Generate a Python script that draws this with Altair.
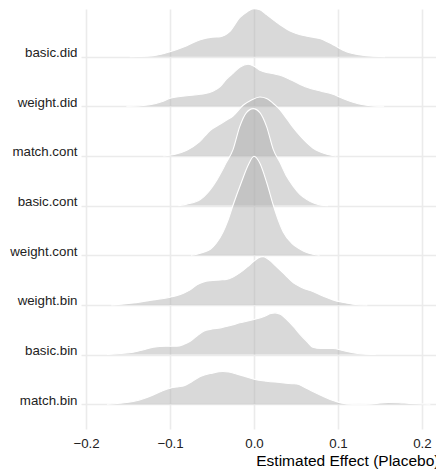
import altair as alt
import pandas as pd

# Row labels, bottom to top
methods = ["match.bin", "basic.bin", "weight.bin", "weight.cont",
           "basic.cont", "match.cont", "weight.did", "basic.did"]

# Density profiles: (x, height in px where one row = ~49.7 px)
x_basic_did = [-0.148, -0.138, -0.12, -0.1, -0.08, -0.064, -0.05, -0.04, -0.029, -0.017, -0.008, 0.0, 0.007, 0.015, 0.031, 0.045, 0.055, 0.07, 0.079, 0.094, 0.11, 0.125, 0.134, 0.15, 0.156]
h_basic_did = [0, 0.2, 1, 5, 11, 17, 19.5, 20, 25, 39, 45, 48, 47, 42, 32, 25, 22, 19.5, 18, 12, 5, 2, 1, 0.1, 0]

x_weight_did = [-0.152, -0.135, -0.124, -0.11, -0.1, -0.08, -0.064, -0.049, -0.04, -0.033, -0.025, -0.017, -0.007, 0.0, 0.007, 0.02, 0.031, 0.045, 0.063, 0.08, 0.094, 0.105, 0.118, 0.13, 0.142, 0.155]
h_weight_did = [0, 0.5, 1.5, 4.5, 8, 10.5, 12, 15, 20, 27, 33, 39, 42, 40, 36, 33, 31, 26, 19, 15, 12, 8, 4, 1.5, 0.3, 0]

x_match_cont = [-0.108, -0.095, -0.08, -0.065, -0.052, -0.04, -0.033, -0.025, -0.013, -0.003, 0.007, 0.015, 0.025, 0.031, 0.04, 0.047, 0.055, 0.063, 0.07, 0.079, 0.088, 0.098]
h_match_cont = [0, 1.5, 5.7, 14, 25.7, 32, 35.7, 40, 50.7, 56, 59, 57.5, 51, 46, 36, 28, 20, 13, 8, 4, 1.5, 0]

x_basic_cont = [-0.09, -0.08, -0.064, -0.055, -0.044, -0.033, -0.025, -0.017, -0.009, -0.001, 0.007, 0.015, 0.023, 0.031, 0.039, 0.047, 0.055, 0.063, 0.071, 0.08, 0.088]
h_basic_cont = [0, 1.5, 6, 13, 26, 43, 56, 79, 93, 97, 93, 79, 56, 43, 29, 19, 11, 6, 2.5, 0.5, 0]

x_weight_cont = [-0.075, -0.068, -0.06, -0.052, -0.045, -0.037, -0.031, -0.025, -0.015, -0.007, 0.0, 0.007, 0.015, 0.023, 0.029, 0.035, 0.045, 0.055, 0.062, 0.07, 0.078]
h_weight_cont = [0, 1, 3, 6, 12, 23, 35, 50, 73, 90, 99, 92, 73, 50, 35, 23, 12, 6, 3, 1, 0]

x_weight_bin = [-0.17, -0.155, -0.144, -0.12, -0.1, -0.084, -0.076, -0.068, -0.06, -0.052, -0.04, -0.033, -0.025, -0.017, -0.008, -0.001, 0.005, 0.011, 0.018, 0.027, 0.037, 0.047, 0.058, 0.07, 0.082, 0.094, 0.106, 0.118, 0.135]
h_weight_bin = [0, 1, 2, 5, 7.7, 11.7, 15, 20, 23, 24.3, 25, 25.5, 28, 32, 38, 43, 47, 48.3, 45, 38, 30, 22, 17, 13.3, 9, 5, 2.5, 0.7, 0]

x_basic_bin = [-0.175, -0.16, -0.144, -0.13, -0.12, -0.105, -0.092, -0.084, -0.076, -0.068, -0.06, -0.05, -0.04, -0.028, -0.017, 0.0, 0.012, 0.02, 0.025, 0.032, 0.039, 0.047, 0.055, 0.063, 0.07, 0.08, 0.094, 0.106, 0.118, 0.13, 0.145]
h_basic_bin = [0, 1, 2.3, 5, 7.3, 8.3, 8.3, 10, 13.3, 18.5, 23.3, 25.5, 26.7, 29, 31.7, 35, 38, 41, 41.7, 40, 35, 28, 20, 13, 7.3, 6, 6, 4, 1.7, 0.5, 0]

x_match_bin = [-0.175, -0.16, -0.144, -0.13, -0.12, -0.11, -0.1, -0.09, -0.084, -0.075, -0.064, -0.05, -0.037, -0.03, -0.021, -0.01, 0.0, 0.015, 0.031, 0.045, 0.051, 0.06, 0.07, 0.082, 0.094, 0.11, 0.125, 0.14, 0.15, 0.16, 0.172, 0.185, 0.2, 0.21]
h_match_bin = [0, 1, 2.7, 6, 9.3, 13, 16, 17.5, 18.3, 22, 27.7, 31, 32.7, 32.2, 30.3, 27.5, 25, 23, 21.7, 20.5, 20.3, 17, 12.7, 8, 3.7, 0.3, 0, 0.3, 1.2, 1.7, 1.5, 0.8, 0.2, 0]

x_ticks = [-0.2, -0.1, 0.0, 0.1, 0.2]
ROW_PX = 49.66

profiles = {
    "match.bin": (x_match_bin, h_match_bin),
    "basic.bin": (x_basic_bin, h_basic_bin),
    "weight.bin": (x_weight_bin, h_weight_bin),
    "weight.cont": (x_weight_cont, h_weight_cont),
    "basic.cont": (x_basic_cont, h_basic_cont),
    "match.cont": (x_match_cont, h_match_cont),
    "weight.did": (x_weight_did, h_weight_did),
    "basic.did": (x_basic_did, h_basic_did),
}

xscale = alt.Scale(domain=[-0.206, 0.2167], nice=False, zero=False)
yscale = alt.Scale(domain=[-0.5, 7.96], nice=False, zero=False)

label_expr = "[" + ",".join("'" + m + "'" for m in methods) + "][datum.value]"

x_axis = alt.Axis(values=x_ticks, format=".1f", ticks=False, domain=False,
                  labelPadding=7, labelFontSize=13.3, labelColor="#222222",
                  labelFont="Liberation Sans", grid=True, gridColor="#ebebeb",
                  gridWidth=1.6, title="Estimated Effect (Placebo)",
                  titleFont="Liberation Sans", titleFontSize=15.5,
                  titleFontWeight="normal", titleColor="#000000",
                  titleAnchor="end", titleAlign="right", titleX=358,
                  titleY=36, titleBaseline="alphabetic")
y_axis = alt.Axis(values=list(range(len(methods))), labelExpr=label_expr,
                  ticks=False, domain=False, labelPadding=4,
                  labelFontSize=13.3, labelColor="#222222",
                  labelFont="Liberation Sans", labelBaseline="alphabetic",
                  grid=True, gridColor="#ebebeb", gridWidth=1.6, title=None)

X = lambda f: alt.X(f, scale=xscale, axis=x_axis, title="Estimated Effect (Placebo)")
Y = lambda f: alt.Y(f, scale=yscale, axis=y_axis, title=None)

layers = []
# draw from the top row (back) to the bottom row (front)
for idx in range(len(methods) - 1, -1, -1):
    name = methods[idx]
    xs, hs = profiles[name]
    df = pd.DataFrame({
        "x": xs,
        "top": [idx + h / ROW_PX for h in hs],
        "base": [idx] * len(xs),
    })
    area = alt.Chart(df).mark_area(
        interpolate="monotone", color="#aaaaaa", opacity=0.45
    ).encode(
        x=X("x:Q"),
        y=Y("top:Q"),
        y2="base:Q",
    )
    line = alt.Chart(df).mark_line(
        interpolate="monotone", color="#ffffff", strokeWidth=1.1
    ).encode(
        x=X("x:Q"),
        y=Y("top:Q"),
    )
    layers += [area, line]

chart = alt.layer(*layers).properties(
    width=355, height=420,
    padding={"left": 73, "top": 1, "right": 0, "bottom": 40},
    autosize=alt.AutoSizeParams(type="none"),
).configure(background="white").configure_view(stroke=None)

chart.save("out.html", embed_options={"renderer": "svg", "actions": False})
